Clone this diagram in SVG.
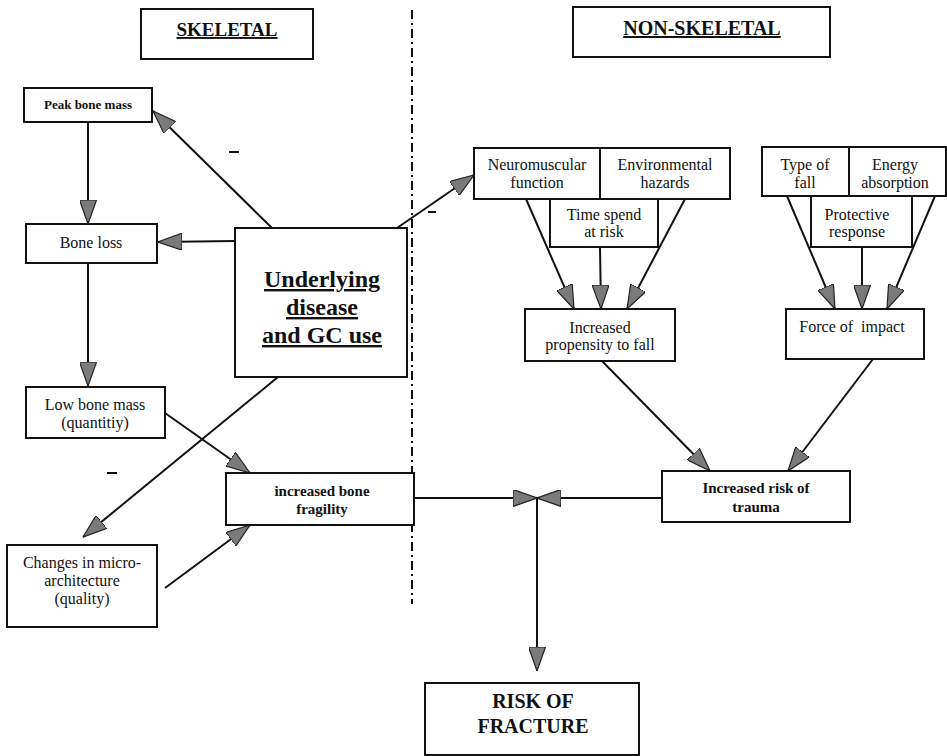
<svg xmlns="http://www.w3.org/2000/svg" width="947" height="756" viewBox="0 0 947 756">
  <style>
    .box { fill: #fff; stroke: #111; stroke-width: 2; }
    .t { font-family: "Liberation Serif", "Times New Roman", serif; fill: #111; text-anchor: middle; }
    .n { font-size: 16px; }
    .b { font-weight: bold; }
    .u { text-decoration: underline; }
    .edge { stroke: #111; stroke-width: 2; fill: none; marker-end: url(#arr); }
    .divider { stroke: #111; stroke-width: 2; stroke-dasharray: 9 4 2 4; }
    .dash { stroke: #111; stroke-width: 2; }
  </style>
  <defs>
    <marker id="arr" viewBox="0 0 24 17" refX="24" refY="8.5" markerWidth="24" markerHeight="17" markerUnits="userSpaceOnUse" orient="auto">
      <path d="M0,0 L24,8.5 L0,17 Z" fill="#7a7a7a" stroke="#222" stroke-width="1.2"/>
    </marker>
  </defs>
  <rect width="947" height="756" fill="#fff"/>

  <!-- dash-dot divider between the two halves -->
  <line class="divider" x1="412" y1="10" x2="412" y2="604"/>

  <!-- section headers -->
  <g id="skeletal-header">
    <rect class="box" x="141" y="9" width="172" height="50"/>
    <text class="t b u" x="227" y="36" font-size="19">SKELETAL</text>
  </g>
  <g id="non-skeletal-header">
    <rect class="box" x="573" y="7" width="257" height="50"/>
    <text class="t b u" x="702" y="35" font-size="20">NON-SKELETAL</text>
  </g>

  <!-- connectors -->
  <g id="connectors">
    <line class="edge" x1="88" y1="122" x2="88" y2="224"/>
    <line class="edge" x1="272" y1="228" x2="153" y2="111" stroke-width="2.6"/>
    <line class="edge" x1="235" y1="241" x2="158" y2="242"/>
    <line class="edge" x1="397" y1="228" x2="474" y2="175"/>
    <line class="edge" x1="88" y1="263" x2="88" y2="386"/>
    <line class="edge" x1="278" y1="377" x2="83" y2="537"/>
    <line class="edge" x1="165" y1="413" x2="250" y2="473"/>
    <line class="edge" x1="165" y1="588" x2="250" y2="525"/>
    <line class="edge" x1="414" y1="498" x2="537" y2="498"/>
    <line class="edge" x1="662" y1="498" x2="537" y2="498"/>
    <line class="edge" x1="537" y1="498" x2="537" y2="671"/>
    <line class="edge" x1="526" y1="199" x2="574" y2="309"/>
    <line class="edge" x1="600" y1="247" x2="601" y2="309"/>
    <line class="edge" x1="685" y1="199" x2="627" y2="309"/>
    <line class="edge" x1="787" y1="196" x2="835" y2="309"/>
    <line class="edge" x1="862" y1="247" x2="862" y2="309"/>
    <line class="edge" x1="935" y1="196" x2="887" y2="309"/>
    <line class="edge" x1="602" y1="361" x2="710" y2="471"/>
    <line class="edge" x1="873" y1="359" x2="788" y2="471"/>
    <!-- minus signs -->
    <line class="dash" x1="229" y1="152" x2="239" y2="152"/>
    <line class="dash" x1="428" y1="212" x2="436" y2="212"/>
    <line class="dash" x1="107" y1="473" x2="117" y2="473"/>
  </g>

  <!-- skeletal nodes -->
  <g id="peak-bone-mass">
    <rect class="box" x="24" y="88" width="128" height="34"/>
    <text class="t b" x="88" y="109" font-size="13">Peak bone mass</text>
  </g>
  <g id="bone-loss">
    <rect class="box" x="26" y="224" width="131" height="39"/>
    <text class="t n" x="91" y="248">Bone loss</text>
  </g>
  <g id="underlying-disease">
    <rect class="box" x="235" y="228" width="172" height="149"/>
    <text class="t b u" x="322" y="287" font-size="24">Underlying</text>
    <text class="t b u" x="322" y="315" font-size="24">disease</text>
    <text class="t b u" x="322" y="343" font-size="24">and GC use</text>
  </g>
  <g id="low-bone-mass">
    <rect class="box" x="26" y="387" width="139" height="51"/>
    <text class="t n" x="95" y="410">Low bone mass</text>
    <text class="t n" x="95" y="428">(quantitiy)</text>
  </g>
  <g id="micro-architecture">
    <rect class="box" x="7" y="545" width="150" height="82"/>
    <text class="t n" x="82" y="568">Changes in micro-</text>
    <text class="t n" x="82" y="586">architecture</text>
    <text class="t n" x="82" y="604">(quality)</text>
  </g>
  <g id="bone-fragility">
    <rect class="box" x="226" y="473" width="188" height="52"/>
    <text class="t b" x="322" y="496" font-size="15">increased bone</text>
    <text class="t b" x="322" y="514" font-size="15">fragility</text>
  </g>

  <!-- non-skeletal nodes -->
  <g id="neuromuscular">
    <rect class="box" x="474" y="148" width="126" height="51"/>
    <text class="t n" x="537" y="170">Neuromuscular</text>
    <text class="t n" x="537" y="188">function</text>
  </g>
  <g id="environmental">
    <rect class="box" x="600" y="148" width="130" height="51"/>
    <text class="t n" x="665" y="170">Environmental</text>
    <text class="t n" x="665" y="188">hazards</text>
  </g>
  <g id="time-at-risk">
    <rect class="box" x="550" y="199" width="108" height="48"/>
    <text class="t n" x="604" y="220">Time spend</text>
    <text class="t n" x="604" y="237">at risk</text>
  </g>
  <g id="type-of-fall">
    <rect class="box" x="762" y="147" width="87" height="49"/>
    <text class="t n" x="805" y="170">Type of</text>
    <text class="t n" x="805" y="188">fall</text>
  </g>
  <g id="energy-absorption">
    <rect class="box" x="849" y="147" width="97" height="49"/>
    <text class="t n" x="895" y="170">Energy</text>
    <text class="t n" x="895" y="188">absorption</text>
  </g>
  <g id="protective-response">
    <rect class="box" x="811" y="196" width="101" height="51"/>
    <text class="t n" x="857" y="220">Protective</text>
    <text class="t n" x="857" y="237">response</text>
  </g>
  <g id="propensity-to-fall">
    <rect class="box" x="525" y="309" width="150" height="52"/>
    <text class="t n" x="600" y="333">Increased</text>
    <text class="t n" x="600" y="350">propensity to fall</text>
  </g>
  <g id="force-of-impact">
    <rect class="box" x="786" y="309" width="138" height="50"/>
    <text class="t n" x="852" y="332" xml:space="preserve">Force of  impact</text>
  </g>
  <g id="risk-of-trauma">
    <rect class="box" x="662" y="471" width="188" height="51"/>
    <text class="t b" x="756" y="493" font-size="15">Increased risk of</text>
    <text class="t b" x="756" y="512" font-size="15">trauma</text>
  </g>
  <g id="risk-of-fracture">
    <rect class="box" x="425" y="683" width="214" height="72"/>
    <text class="t b" x="533" y="708" font-size="20">RISK OF</text>
    <text class="t b" x="533" y="733" font-size="20">FRACTURE</text>
  </g>
</svg>
